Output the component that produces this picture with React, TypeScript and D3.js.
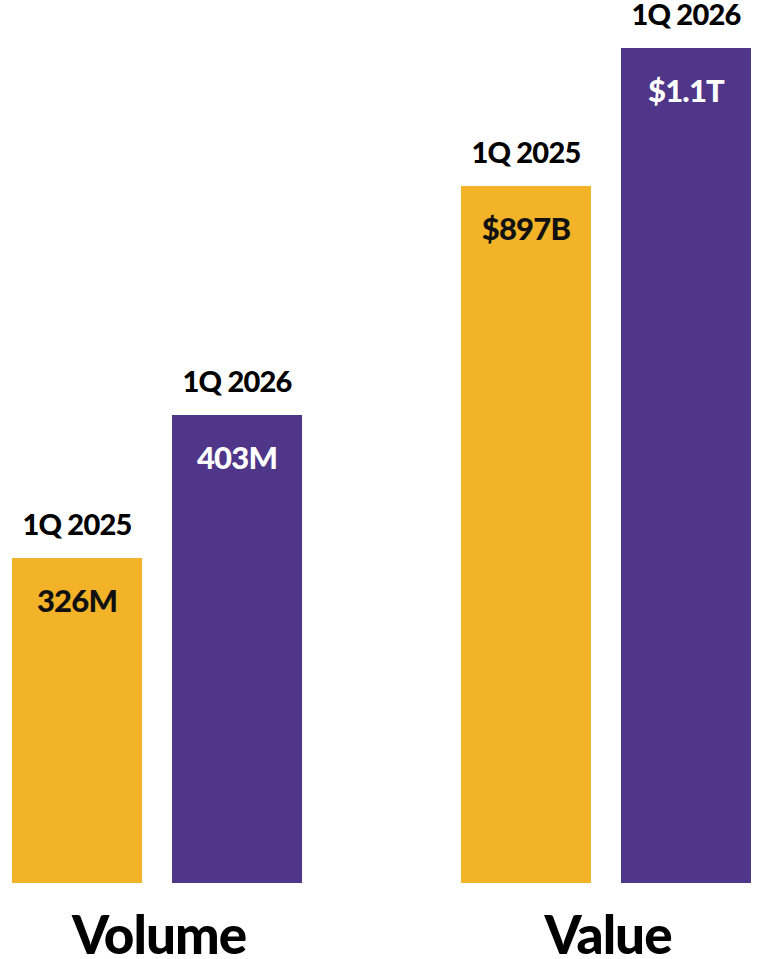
import React from "react";
import * as d3 from "d3";

const groups = ["Volume", "Value"];
const periods = ["1Q 2025", "1Q 2026"];
const volumeValues = [326, 403];
const volumeLabels = ["326M", "403M"];
const valueValues = [897, 1100];
const valueLabels = ["$897B", "$1.1T"];
// baseline value for each group's axis (the chart does not start at zero)
const volumeDomain = [151, 403];
const valueDomain = [-128, 1100];

const colors = ["#F2B328", "#4F3688"];
const textColors = ["#111111", "#FFFFFF"];

const W = 757;
const H = 959;
const baseY = 883;

export default function App() {
  const groupX = d3.scaleBand().domain(groups).range([12, 751]).paddingInner(0.354);
  const barX = d3.scaleBand().domain(periods).range([0, groupX.bandwidth()]).paddingInner(0.1875);
  const scales = [
    d3.scaleLinear().domain(volumeDomain).range([baseY, 415]),
    d3.scaleLinear().domain(valueDomain).range([baseY, 48]),
  ];
  const data = [
    { vals: volumeValues, labels: volumeLabels },
    { vals: valueValues, labels: valueLabels },
  ];
  const font = "Lato, 'DejaVu Sans', sans-serif";
  return (
    <svg width={W} height={H} style={{ position: "absolute", left: 0, top: 0 }} fontFamily={font}>
      <rect width={W} height={H} fill="#fff" />
      {groups.map((g, gi) => {
        const gx = groupX(g)!;
        const y = scales[gi];
        return (
          <g key={g}>
            {periods.map((p, pi) => {
              const x = gx + barX(p)!;
              const w = barX.bandwidth();
              const top = y(data[gi].vals[pi]);
              return (
                <g key={p}>
                  <rect x={x} y={top} width={w} height={baseY - top} fill={colors[pi]} />
                  <text x={x + w / 2} y={top - 23} textAnchor="middle" fontSize={29} fontWeight={900} fill="#000" letterSpacing={-0.8}>
                    {p}
                  </text>
                  <text x={x + w / 2} y={top + 54} textAnchor="middle" fontSize={31} fontWeight={900} fill={textColors[pi]} letterSpacing={-0.8}>
                    {data[gi].labels[pi]}
                  </text>
                </g>
              );
            })}
            <text x={gx + groupX.bandwidth() / 2 + 2} y={954} textAnchor="middle" fontSize={53} fontWeight={900} fill="#000" letterSpacing={-1}>
              {g}
            </text>
          </g>
        );
      })}
    </svg>
  );
}
